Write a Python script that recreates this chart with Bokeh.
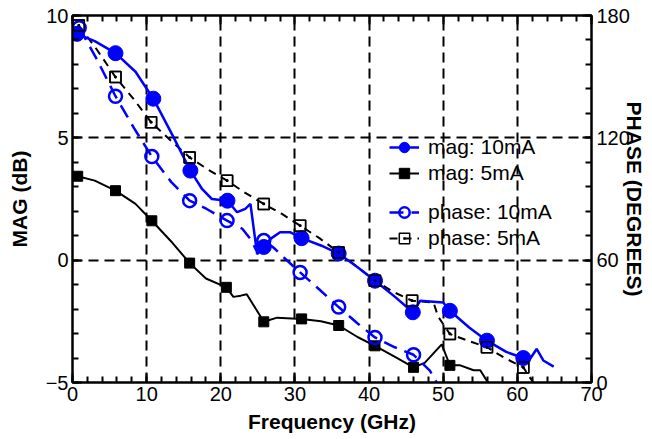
from bokeh.plotting import figure
from bokeh.models import (Range1d, LinearAxis, SingleIntervalTicker, Legend, LegendItem,
                          CustomJSTickFormatter)
from bokeh.embed import file_html
from bokeh.resources import INLINE

# ---------------- data ----------------
# MAG 10 mA (dB) - measured trace and marker points
mag10_f = [0.6, 3.0, 5.8, 8.5, 10.9, 13.5, 15.9, 17.5, 18.8, 20.9, 22.2, 23.3, 24.0, 24.9, 25.8,
           26.7, 28.0, 29.4, 30.9, 33.5, 35.9, 38.5, 40.8, 43.5, 45.9, 46.9, 50.0, 50.9, 53.5,
           55.9, 58.5, 60.8, 61.7, 62.6, 63.5, 64.9]
mag10_v = [9.25, 8.95, 8.46, 7.7, 6.6, 5.1, 3.66, 2.9, 2.5, 2.43, 1.96, 2.1, 2.3, 0.25, 0.54,
           0.87, 1.14, 1.14, 0.9, 0.6, 0.27, -0.3, -0.84, -1.5, -2.13, -1.66, -1.73, -2.07, -2.75,
           -3.29, -3.75, -4.0, -4.04, -3.63, -4.1, -4.35]
mag10_mk_f = [0.6, 5.8, 10.9, 15.9, 20.9, 25.8, 30.9, 35.9, 40.8, 45.9, 50.9, 55.9, 60.8]
mag10_mk_v = [9.25, 8.46, 6.6, 3.66, 2.43, 0.54, 0.9, 0.27, -0.84, -2.13, -2.07, -3.29, -4.0]

# MAG 5 mA (dB)
mag5_f = [0.7, 3.0, 5.8, 8.5, 10.7, 13.5, 15.8, 18.0, 20.75, 21.7, 22.7, 23.5, 25.8, 27.6, 30.9,
          33.5, 35.9, 38.5, 40.8, 43.5, 46.0, 47.5, 49.8, 50.9, 52.3, 54.1, 55.0, 55.9, 57.0]
mag5_v = [3.43, 3.25, 2.84, 2.3, 1.61, 0.7, -0.12, -0.75, -1.11, -1.5, -1.45, -1.39, -2.52, -2.35, -2.4,
          -2.5, -2.67, -3.15, -3.5, -3.95, -4.38, -4.2, -3.44, -4.3, -4.3, -4.5, -4.5, -4.94, -5.5]
mag5_mk_f = [0.7, 5.8, 10.7, 15.8, 20.75, 25.8, 30.9, 35.9, 40.8, 46.0, 50.9]
mag5_mk_v = [3.43, 2.84, 1.61, -0.12, -1.11, -2.52, -2.4, -2.67, -3.5, -4.38, -4.3]

# PHASE 10 mA (degrees)
ph10_f = [0.9, 3.3, 5.8, 8.3, 10.7, 13.3, 15.8, 18.1, 20.85, 22.9, 24.0, 24.8, 25.8, 27.1, 28.5,
          30.7, 33.3, 35.9, 38.3, 40.8, 43.4, 46.0, 48.2, 49.3]
ph10_v = [174.0, 158.4, 140.4, 124.8, 110.8, 98.4, 89.2, 85.1, 79.4, 75.4, 70.4, 64.8, 69.6, 66.2, 61.3,
          54.0, 45.6, 37.0, 29.4, 22.1, 17.4, 13.6, 5.8, -1.2]
ph10_mk_f = [0.9, 5.8, 10.7, 15.8, 20.85, 25.8, 30.7, 35.9, 40.8, 46.0]
ph10_mk_v = [174.0, 140.4, 110.8, 89.2, 79.4, 69.6, 54.0, 37.0, 22.1, 13.6]

# PHASE 5 mA (degrees)
ph5_f = [0.85, 3.3, 5.8, 8.2, 10.6, 13.2, 15.8, 18.3, 20.85, 23.3, 25.8, 28.2, 30.7, 33.3, 35.9,
         38.3, 40.8, 43.3, 45.8, 48.7, 49.3, 50.9, 53.4, 55.9, 58.3, 60.8, 62.8]
ph5_v = [175.1, 163.2, 149.8, 139.2, 127.7, 118.8, 110.4, 104.4, 99.0, 93.0, 87.6, 82.8, 76.9, 70.8, 63.8,
         57.0, 49.9, 44.4, 40.1, 39.2, 32.4, 23.8, 20.4, 17.3, 12.0, 7.4, -3.6]
ph5_mk_f = [0.85, 5.8, 10.6, 15.8, 20.85, 25.8, 30.7, 35.9, 40.8, 45.8, 50.9, 55.9, 60.8]
ph5_mk_v = [175.1, 149.8, 127.7, 110.4, 99.0, 87.6, 76.9, 63.8, 49.9, 40.1, 23.8, 17.3, 7.4]

x_ticks_interval = 10
mag_ticks_interval = 5
phase_ticks_interval = 60

BLUE = "#0000ff"
FONT = "Liberation Sans"

p = figure(width=652, height=439, output_backend="svg", toolbar_location=None,
           x_range=Range1d(0, 70), y_range=Range1d(-5, 10),
           min_border_left=72, min_border_right=61, min_border_top=15, min_border_bottom=57,
           x_axis_label="Frequency (GHz)", y_axis_label="MAG (dB)")
p.extra_y_ranges = {"phase": Range1d(0, 180)}
p.outline_line_color = "black"
p.outline_line_width = 2
p.background_fill_color = "white"
p.border_fill_color = "white"

bottom = p.below[0]
left = p.left[0]
bottom.ticker = SingleIntervalTicker(interval=x_ticks_interval, num_minor_ticks=5)
left.ticker = SingleIntervalTicker(interval=mag_ticks_interval, num_minor_ticks=5)

right = LinearAxis(y_range_name="phase", axis_label="PHASE (DEGREES)",
                   ticker=SingleIntervalTicker(interval=phase_ticks_interval, num_minor_ticks=5))
p.add_layout(right, "right")
top = LinearAxis(ticker=SingleIntervalTicker(interval=x_ticks_interval, num_minor_ticks=5),
                 formatter=CustomJSTickFormatter(code="return ''"))
p.add_layout(top, "above")

for ax in [bottom, left, right, top]:
    ax.axis_line_color = "black"
    ax.axis_line_width = 2
    ax.major_tick_in = 9
    ax.major_tick_out = 0
    ax.minor_tick_in = 6
    ax.minor_tick_out = 0
    ax.major_tick_line_width = 2
    ax.minor_tick_line_width = 2
    ax.major_tick_line_color = "black"
    ax.minor_tick_line_color = "black"
    ax.major_label_text_font = FONT
    ax.major_label_text_font_size = "20px"
    ax.major_label_text_color = "black"
    ax.axis_label_text_font = FONT
    ax.axis_label_text_font_size = "21px"
    ax.axis_label_text_font_style = "bold"
    ax.axis_label_text_color = "black"
    ax.major_label_standoff = 4

top.major_label_standoff = 0
left.axis_label_standoff = 12
bottom.axis_label_standoff = 6
right.major_label_standoff = 5
right.axis_label_standoff = -10

p.xgrid.grid_line_color = "black"
p.ygrid.grid_line_color = "black"
p.xgrid.grid_line_width = 2
p.ygrid.grid_line_width = 2
p.xgrid.grid_line_dash = "10 6"
p.ygrid.grid_line_dash = "10 6"

# phase 5 mA
l4 = p.line(ph5_f, ph5_v, y_range_name="phase", line_color="black", line_width=2, line_dash="8 6")
s4 = p.scatter(ph5_mk_f, ph5_mk_v, y_range_name="phase", marker="square_dot", size=11,
               line_color="black", line_width=1.5, fill_color=None)
# mag 5 mA
l2 = p.line(mag5_f, mag5_v, line_color="black", line_width=2)
s2 = p.scatter(mag5_mk_f, mag5_mk_v, marker="square", size=10, line_color="black", fill_color="black")
# phase 10 mA
l3 = p.line(ph10_f, ph10_v, y_range_name="phase", line_color=BLUE, line_width=2.5, line_dash="14 8")
s3 = p.scatter(ph10_mk_f, ph10_mk_v, y_range_name="phase", marker="circle", size=13,
               line_color=BLUE, line_width=2.5, fill_color=None)
# mag 10 mA
l1 = p.line(mag10_f, mag10_v, line_color=BLUE, line_width=2.5)
s1 = p.scatter(mag10_mk_f, mag10_mk_v, marker="circle", size=15, line_color=BLUE, fill_color=BLUE)
# redraw phase 5mA squares on top (outline over blue dots)
s4b = p.scatter(ph5_mk_f, ph5_mk_v, y_range_name="phase", marker="square_dot", size=11,
                line_color="black", line_width=1.5, fill_color=None)


def make_legend(items, loc):
    lg = Legend(items=items, location=loc)
    lg.border_line_color = None
    lg.background_fill_alpha = 0
    lg.padding = 0
    lg.margin = 0
    lg.spacing = 0
    lg.label_height = 26
    lg.glyph_height = 26
    lg.glyph_width = 30
    lg.label_standoff = 9
    lg.label_text_font = FONT
    lg.label_text_font_size = "21px"
    lg.label_text_color = "black"
    return lg


leg1 = make_legend([LegendItem(label="mag: 10mA", renderers=[l1, s1]),
                    LegendItem(label="mag: 5mA", renderers=[l2, s2])], (317, 196))
leg2 = make_legend([LegendItem(label="phase: 10mA", renderers=[l3, s3]),
                    LegendItem(label="phase: 5mA", renderers=[l4, s4])], (317, 131))
p.add_layout(leg1)
p.add_layout(leg2)

open("out.html", "w").write(file_html(p, INLINE))
